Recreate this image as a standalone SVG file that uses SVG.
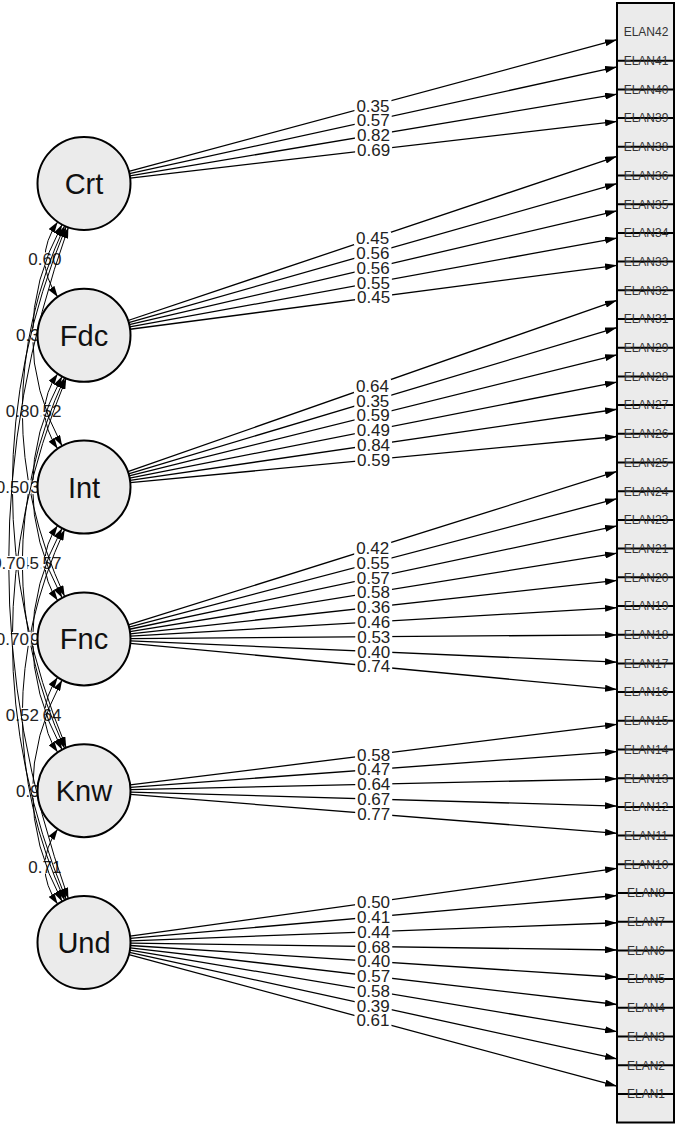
<svg xmlns="http://www.w3.org/2000/svg" width="679" height="1127" viewBox="0 0 679 1127">
<style>
.ld{stroke:#000;stroke-width:1.3;fill:none;marker-end:url(#ah)}
.cv{stroke:#000;stroke-width:1;fill:none;marker-start:url(#ah2);marker-end:url(#ah2)}
.lb{fill:#fff}
.lt{font-family:"Liberation Sans",Arial,sans-serif;font-size:17px;fill:#222;text-anchor:middle}
.lat circle{fill:#ebebeb;stroke:#000;stroke-width:2}
.lat text{font-family:"Liberation Sans",Arial,sans-serif;font-size:29px;fill:#111;text-anchor:middle}
.man{font-family:"Liberation Sans",Arial,sans-serif;font-size:12px;fill:#333;text-anchor:middle}
.sep{stroke:#000;stroke-width:2}
</style>
<defs>
<marker id="ah" viewBox="0 0 12 7" refX="12" refY="3.5" markerWidth="12" markerHeight="7" markerUnits="userSpaceOnUse" orient="auto"><path d="M0,0 L12,3.5 L0,7 z" fill="#000"/></marker>
<marker id="ah2" viewBox="0 0 11 7" refX="11" refY="3.5" markerWidth="11" markerHeight="7" markerUnits="userSpaceOnUse" orient="auto-start-reverse"><path d="M0,0 L11,3.5 L0,7 z" fill="#000"/></marker>
</defs>
<rect width="679" height="1127" fill="#fff"/>

<g id="manifests">
<rect x="617" y="3" width="57" height="1119.5" fill="#ebebeb" stroke="#000" stroke-width="2"/>
<path class="sep" d="M617,60.7H674M617,89.4H674M617,118.1H674M617,146.8H674M617,175.5H674M617,204.2H674M617,232.9H674M617,261.6H674M617,290.3H674M617,319H674M617,347.7H674M617,376.4H674M617,405.1H674M617,433.8H674M617,462.5H674M617,491.2H674M617,519.9H674M617,548.6H674M617,577.3H674M617,606H674M617,634.7H674M617,663.4H674M617,692.1H674M617,720.8H674M617,749.5H674M617,778.2H674M617,806.9H674M617,835.6H674M617,864.3H674M617,893H674M617,921.7H674M617,950.4H674M617,979.1H674M617,1007.8H674M617,1036.5H674M617,1065.2H674M617,1093.9H674"/>
<g class="man">
<text id="ELAN42" x="646" y="36.3">ELAN42</text>
<text id="ELAN41" x="646" y="65">ELAN41</text>
<text id="ELAN40" x="646" y="93.7">ELAN40</text>
<text id="ELAN39" x="646" y="122.4">ELAN39</text>
<text id="ELAN38" x="646" y="151.1">ELAN38</text>
<text id="ELAN36" x="646" y="179.8">ELAN36</text>
<text id="ELAN35" x="646" y="208.5">ELAN35</text>
<text id="ELAN34" x="646" y="237.2">ELAN34</text>
<text id="ELAN33" x="646" y="265.9">ELAN33</text>
<text id="ELAN32" x="646" y="294.6">ELAN32</text>
<text id="ELAN31" x="646" y="323.3">ELAN31</text>
<text id="ELAN29" x="646" y="352">ELAN29</text>
<text id="ELAN28" x="646" y="380.7">ELAN28</text>
<text id="ELAN27" x="646" y="409.4">ELAN27</text>
<text id="ELAN26" x="646" y="438.1">ELAN26</text>
<text id="ELAN25" x="646" y="466.8">ELAN25</text>
<text id="ELAN24" x="646" y="495.5">ELAN24</text>
<text id="ELAN23" x="646" y="524.2">ELAN23</text>
<text id="ELAN21" x="646" y="552.9">ELAN21</text>
<text id="ELAN20" x="646" y="581.6">ELAN20</text>
<text id="ELAN19" x="646" y="610.3">ELAN19</text>
<text id="ELAN18" x="646" y="639">ELAN18</text>
<text id="ELAN17" x="646" y="667.7">ELAN17</text>
<text id="ELAN16" x="646" y="696.4">ELAN16</text>
<text id="ELAN15" x="646" y="725.1">ELAN15</text>
<text id="ELAN14" x="646" y="753.8">ELAN14</text>
<text id="ELAN13" x="646" y="782.5">ELAN13</text>
<text id="ELAN12" x="646" y="811.2">ELAN12</text>
<text id="ELAN11" x="646" y="839.9">ELAN11</text>
<text id="ELAN10" x="646" y="868.6">ELAN10</text>
<text id="ELAN8" x="646" y="897.3">ELAN8</text>
<text id="ELAN7" x="646" y="926">ELAN7</text>
<text id="ELAN6" x="646" y="954.7">ELAN6</text>
<text id="ELAN5" x="646" y="983.4">ELAN5</text>
<text id="ELAN4" x="646" y="1012.1">ELAN4</text>
<text id="ELAN3" x="646" y="1040.8">ELAN3</text>
<text id="ELAN2" x="646" y="1069.5">ELAN2</text>
<text id="ELAN1" x="646" y="1098.2">ELAN1</text>
</g>
</g>

<g id="loadings">
<path class="ld" d="M128.89,171.39L617,39.69"/>
<path class="ld" d="M129.43,173.57L617,66.93"/>
<path class="ld" d="M129.86,175.81L617,94.18"/>
<path class="ld" d="M130.19,178.12L617,121.42"/>
<path class="ld" d="M128.08,320.5L617,156.37"/>
<path class="ld" d="M128.72,322.57L617,183.61"/>
<path class="ld" d="M129.28,324.73L617,210.85"/>
<path class="ld" d="M129.75,326.96L617,238.1"/>
<path class="ld" d="M130.1,329.25L617,265.34"/>
<path class="ld" d="M127.88,471.72L617,300.29"/>
<path class="ld" d="M128.55,473.76L617,327.53"/>
<path class="ld" d="M129.13,475.9L617,354.78"/>
<path class="ld" d="M129.62,478.11L617,382.02"/>
<path class="ld" d="M130.01,480.38L617,409.26"/>
<path class="ld" d="M130.29,482.71L617,436.51"/>
<path class="ld" d="M128.36,624.96L617,471.45"/>
<path class="ld" d="M128.97,627.07L617,498.7"/>
<path class="ld" d="M129.49,629.26L617,525.94"/>
<path class="ld" d="M129.91,631.52L617,553.18"/>
<path class="ld" d="M130.22,633.83L617,580.43"/>
<path class="ld" d="M130.42,636.18L617,607.67"/>
<path class="ld" d="M130.5,638.55L617,634.91"/>
<path class="ld" d="M130.46,640.93L617,662.16"/>
<path class="ld" d="M130.29,643.29L617,689.4"/>
<path class="ld" d="M130.14,784.96L617,724.35"/>
<path class="ld" d="M130.38,787.3L617,751.59"/>
<path class="ld" d="M130.49,789.66L617,778.83"/>
<path class="ld" d="M130.48,792.04L617,806.08"/>
<path class="ld" d="M130.35,794.41L617,833.32"/>
<path class="ld" d="M130.06,936.09L617,868.27"/>
<path class="ld" d="M130.32,938.42L617,895.51"/>
<path class="ld" d="M130.47,940.78L617,922.76"/>
<path class="ld" d="M130.5,943.15L617,950"/>
<path class="ld" d="M130.4,945.52L617,977.24"/>
<path class="ld" d="M130.19,947.87L617,1004.49"/>
<path class="ld" d="M129.86,950.18L617,1031.73"/>
<path class="ld" d="M129.43,952.43L617,1058.97"/>
<path class="ld" d="M128.9,954.61L617,1086.21"/>
</g>

<g id="loading-labels">
<g transform="translate(372.95,105.54)"><rect class="lb" x="-18.5" y="-7" width="37" height="14"/><text class="lt" y="6">0.35</text></g>
<g transform="translate(373.21,120.25)"><rect class="lb" x="-18.5" y="-7" width="37" height="14"/><text class="lt" y="6">0.57</text></g>
<g transform="translate(373.43,135)"><rect class="lb" x="-18.5" y="-7" width="37" height="14"/><text class="lt" y="6">0.82</text></g>
<g transform="translate(373.6,149.77)"><rect class="lb" x="-18.5" y="-7" width="37" height="14"/><text class="lt" y="6">0.69</text></g>
<g transform="translate(372.54,238.44)"><rect class="lb" x="-18.5" y="-7" width="37" height="14"/><text class="lt" y="6">0.45</text></g>
<g transform="translate(372.86,253.09)"><rect class="lb" x="-18.5" y="-7" width="37" height="14"/><text class="lt" y="6">0.56</text></g>
<g transform="translate(373.14,267.79)"><rect class="lb" x="-18.5" y="-7" width="37" height="14"/><text class="lt" y="6">0.56</text></g>
<g transform="translate(373.38,282.53)"><rect class="lb" x="-18.5" y="-7" width="37" height="14"/><text class="lt" y="6">0.55</text></g>
<g transform="translate(373.55,297.3)"><rect class="lb" x="-18.5" y="-7" width="37" height="14"/><text class="lt" y="6">0.45</text></g>
<g transform="translate(372.44,386)"><rect class="lb" x="-18.5" y="-7" width="37" height="14"/><text class="lt" y="6">0.64</text></g>
<g transform="translate(372.78,400.64)"><rect class="lb" x="-18.5" y="-7" width="37" height="14"/><text class="lt" y="6">0.35</text></g>
<g transform="translate(373.07,415.34)"><rect class="lb" x="-18.5" y="-7" width="37" height="14"/><text class="lt" y="6">0.59</text></g>
<g transform="translate(373.31,430.07)"><rect class="lb" x="-18.5" y="-7" width="37" height="14"/><text class="lt" y="6">0.49</text></g>
<g transform="translate(373.5,444.82)"><rect class="lb" x="-18.5" y="-7" width="37" height="14"/><text class="lt" y="6">0.84</text></g>
<g transform="translate(373.65,459.61)"><rect class="lb" x="-18.5" y="-7" width="37" height="14"/><text class="lt" y="6">0.59</text></g>
<g transform="translate(372.68,548.2)"><rect class="lb" x="-18.5" y="-7" width="37" height="14"/><text class="lt" y="6">0.42</text></g>
<g transform="translate(372.99,562.89)"><rect class="lb" x="-18.5" y="-7" width="37" height="14"/><text class="lt" y="6">0.55</text></g>
<g transform="translate(373.25,577.6)"><rect class="lb" x="-18.5" y="-7" width="37" height="14"/><text class="lt" y="6">0.57</text></g>
<g transform="translate(373.46,592.35)"><rect class="lb" x="-18.5" y="-7" width="37" height="14"/><text class="lt" y="6">0.58</text></g>
<g transform="translate(373.61,607.13)"><rect class="lb" x="-18.5" y="-7" width="37" height="14"/><text class="lt" y="6">0.36</text></g>
<g transform="translate(373.71,621.93)"><rect class="lb" x="-18.5" y="-7" width="37" height="14"/><text class="lt" y="6">0.46</text></g>
<g transform="translate(373.75,636.73)"><rect class="lb" x="-18.5" y="-7" width="37" height="14"/><text class="lt" y="6">0.53</text></g>
<g transform="translate(373.73,651.55)"><rect class="lb" x="-18.5" y="-7" width="37" height="14"/><text class="lt" y="6">0.40</text></g>
<g transform="translate(373.65,666.35)"><rect class="lb" x="-18.5" y="-7" width="37" height="14"/><text class="lt" y="6">0.74</text></g>
<g transform="translate(373.57,754.66)"><rect class="lb" x="-18.5" y="-7" width="37" height="14"/><text class="lt" y="6">0.58</text></g>
<g transform="translate(373.69,769.45)"><rect class="lb" x="-18.5" y="-7" width="37" height="14"/><text class="lt" y="6">0.47</text></g>
<g transform="translate(373.75,784.25)"><rect class="lb" x="-18.5" y="-7" width="37" height="14"/><text class="lt" y="6">0.64</text></g>
<g transform="translate(373.74,799.06)"><rect class="lb" x="-18.5" y="-7" width="37" height="14"/><text class="lt" y="6">0.67</text></g>
<g transform="translate(373.68,813.87)"><rect class="lb" x="-18.5" y="-7" width="37" height="14"/><text class="lt" y="6">0.77</text></g>
<g transform="translate(373.53,902.18)"><rect class="lb" x="-18.5" y="-7" width="37" height="14"/><text class="lt" y="6">0.50</text></g>
<g transform="translate(373.66,916.97)"><rect class="lb" x="-18.5" y="-7" width="37" height="14"/><text class="lt" y="6">0.41</text></g>
<g transform="translate(373.73,931.77)"><rect class="lb" x="-18.5" y="-7" width="37" height="14"/><text class="lt" y="6">0.44</text></g>
<g transform="translate(373.75,946.58)"><rect class="lb" x="-18.5" y="-7" width="37" height="14"/><text class="lt" y="6">0.68</text></g>
<g transform="translate(373.7,961.38)"><rect class="lb" x="-18.5" y="-7" width="37" height="14"/><text class="lt" y="6">0.40</text></g>
<g transform="translate(373.6,976.18)"><rect class="lb" x="-18.5" y="-7" width="37" height="14"/><text class="lt" y="6">0.57</text></g>
<g transform="translate(373.43,990.96)"><rect class="lb" x="-18.5" y="-7" width="37" height="14"/><text class="lt" y="6">0.58</text></g>
<g transform="translate(373.22,1005.7)"><rect class="lb" x="-18.5" y="-7" width="37" height="14"/><text class="lt" y="6">0.39</text></g>
<g transform="translate(372.95,1020.41)"><rect class="lb" x="-18.5" y="-7" width="37" height="14"/><text class="lt" y="6">0.61</text></g>
</g>

<g id="covariances">
<path class="cv" d="M57.72,221.86Q32,259.4 57.72,296.94"/>
<g transform="translate(44.86,259.4)"><rect class="lb" x="-18.5" y="-7" width="37" height="14"/><text class="lt" y="6">0.60</text></g>
<path class="cv" d="M57.72,373.66Q32,411.2 57.72,448.74"/>
<g transform="translate(44.86,411.2)"><rect class="lb" x="-18.5" y="-7" width="37" height="14"/><text class="lt" y="6">0.52</text></g>
<path class="cv" d="M57.72,525.46Q32,563 57.72,600.54"/>
<g transform="translate(44.86,563)"><rect class="lb" x="-18.5" y="-7" width="37" height="14"/><text class="lt" y="6">0.57</text></g>
<path class="cv" d="M57.72,677.26Q32,714.8 57.72,752.34"/>
<g transform="translate(44.86,714.8)"><rect class="lb" x="-18.5" y="-7" width="37" height="14"/><text class="lt" y="6">0.64</text></g>
<path class="cv" d="M57.72,829.06Q32,866.6 57.72,904.14"/>
<g transform="translate(44.86,866.6)"><rect class="lb" x="-18.5" y="-7" width="37" height="14"/><text class="lt" y="6">0.71</text></g>

<path class="cv" d="M62.11,224.53Q3,335.3 62.11,446.07"/>
<g transform="translate(32.56,335.3)"><rect class="lb" x="-18.5" y="-7" width="37" height="14"/><text class="lt" y="6">0.35</text></g>
<path class="cv" d="M62.11,376.33Q3,487.1 62.11,597.87"/>
<g transform="translate(32.56,487.1)"><rect class="lb" x="-18.5" y="-7" width="37" height="14"/><text class="lt" y="6">0.33</text></g>
<path class="cv" d="M62.11,528.13Q3,638.9 62.11,749.67"/>
<g transform="translate(32.56,638.9)"><rect class="lb" x="-18.5" y="-7" width="37" height="14"/><text class="lt" y="6">0.92</text></g>
<path class="cv" d="M62.11,679.93Q3,790.7 62.11,901.47"/>
<g transform="translate(32.56,790.7)"><rect class="lb" x="-18.5" y="-7" width="37" height="14"/><text class="lt" y="6">0.90</text></g>

<path class="cv" d="M64.68,225.8Q-20,411.2 64.68,596.6"/>
<g transform="translate(22.34,411.2)"><rect class="lb" x="-18.5" y="-7" width="37" height="14"/><text class="lt" y="6">0.80</text></g>
<path class="cv" d="M64.68,377.6Q-20,563 64.68,748.4"/>
<g transform="translate(22.34,563)"><rect class="lb" x="-18.5" y="-7" width="37" height="14"/><text class="lt" y="6">0.45</text></g>
<path class="cv" d="M64.68,529.4Q-20,714.8 64.68,900.2"/>
<g transform="translate(22.34,714.8)"><rect class="lb" x="-18.5" y="-7" width="37" height="14"/><text class="lt" y="6">0.52</text></g>

<path class="cv" d="M66.24,226.47Q-41.5,487.1 66.24,747.73"/>
<g transform="translate(12.37,487.1)"><rect class="lb" x="-18.5" y="-7" width="37" height="14"/><text class="lt" y="6">0.50</text></g>
<path class="cv" d="M66.24,378.27Q-41.5,638.9 66.24,899.53"/>
<g transform="translate(12.37,638.9)"><rect class="lb" x="-18.5" y="-7" width="37" height="14"/><text class="lt" y="6">0.70</text></g>

<path class="cv" d="M68.41,227.31Q-51,563 68.41,898.69"/>
<g transform="translate(8.7,563)"><rect class="lb" x="-18.5" y="-7" width="37" height="14"/><text class="lt" y="6">0.70</text></g>
</g>

<g id="Crt" class="lat"><circle cx="84" cy="183.5" r="46.5"/><text x="84" y="194">Crt</text></g>
<g id="Fdc" class="lat"><circle cx="84" cy="335.3" r="46.5"/><text x="84" y="345.8">Fdc</text></g>
<g id="Int" class="lat"><circle cx="84" cy="487.1" r="46.5"/><text x="84" y="497.6">Int</text></g>
<g id="Fnc" class="lat"><circle cx="84" cy="638.9" r="46.5"/><text x="84" y="649.4">Fnc</text></g>
<g id="Knw" class="lat"><circle cx="84" cy="790.7" r="46.5"/><text x="84" y="801.2">Knw</text></g>
<g id="Und" class="lat"><circle cx="84" cy="942.5" r="46.5"/><text x="84" y="953">Und</text></g>
</svg>
